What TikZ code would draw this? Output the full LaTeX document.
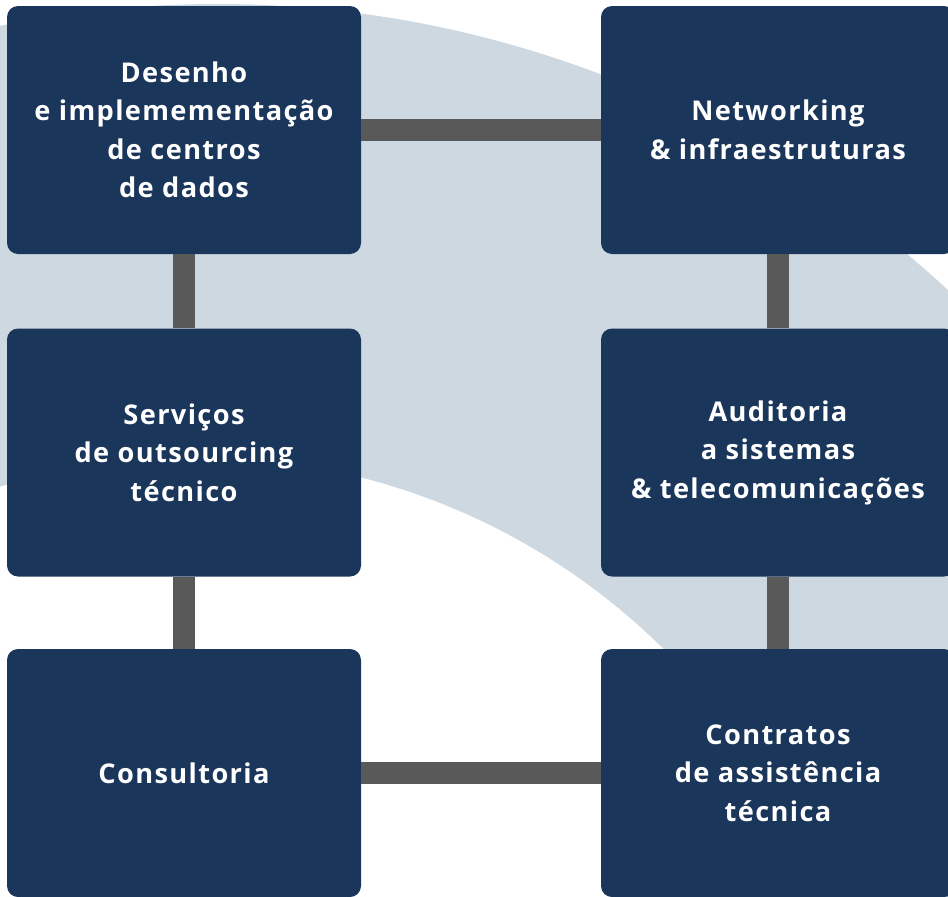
\documentclass[tikz,border=0pt]{standalone}
\usepackage{fontspec}
\setmainfont{Open Sans}[LetterSpace=5]
\definecolor{navy}{HTML}{1B365B}
\definecolor{ringc}{HTML}{CDD8E1}
\definecolor{linkc}{HTML}{595959}
\tikzset{
  card/.style={fill=navy, rounded corners=11pt, minimum width=354pt, minimum height=248pt,
    inner sep=0pt, align=center, text=white, font=\bfseries\fontsize{27.2}{38.5}\selectfont},
  link/.style={draw=linkc, line width=22.5pt}
}
\begin{document}
\begin{tikzpicture}[x=1pt,y=-1pt]
\useasboundingbox (0,0) rectangle (948,897);
\clip (0,0) rectangle (948,897);
\fill[ringc, even odd rule] (217,1081) circle[radius=1077pt] (197,1120) circle[radius=663pt];
\node[card] (dc) at (184,130) {Desenho\\e implemementação\\de centros\\de dados};
\node[card] (net) at (778,130) {Networking\\\& infraestruturas};
\node[card] (out) at (184,452.5) {Serviços\\de outsourcing\\técnico};
\node[card] (aud) at (778,452.5) {Auditoria\\a sistemas\\\& telecomunicações};
\node[card] (con) at (184,773) {Consultoria};
\node[card] (ctr) at (778,773) {Contratos\\de assistência\\técnica};
\draw[link] (dc.east) -- (net.west);
\draw[link] (dc.south) -- (out.north);
\draw[link] (out.south) -- (con.north);
\draw[link] (net.south) -- (aud.north);
\draw[link] (aud.south) -- (ctr.north);
\draw[link] (con.east) -- (ctr.west);
\end{tikzpicture}
\end{document}
